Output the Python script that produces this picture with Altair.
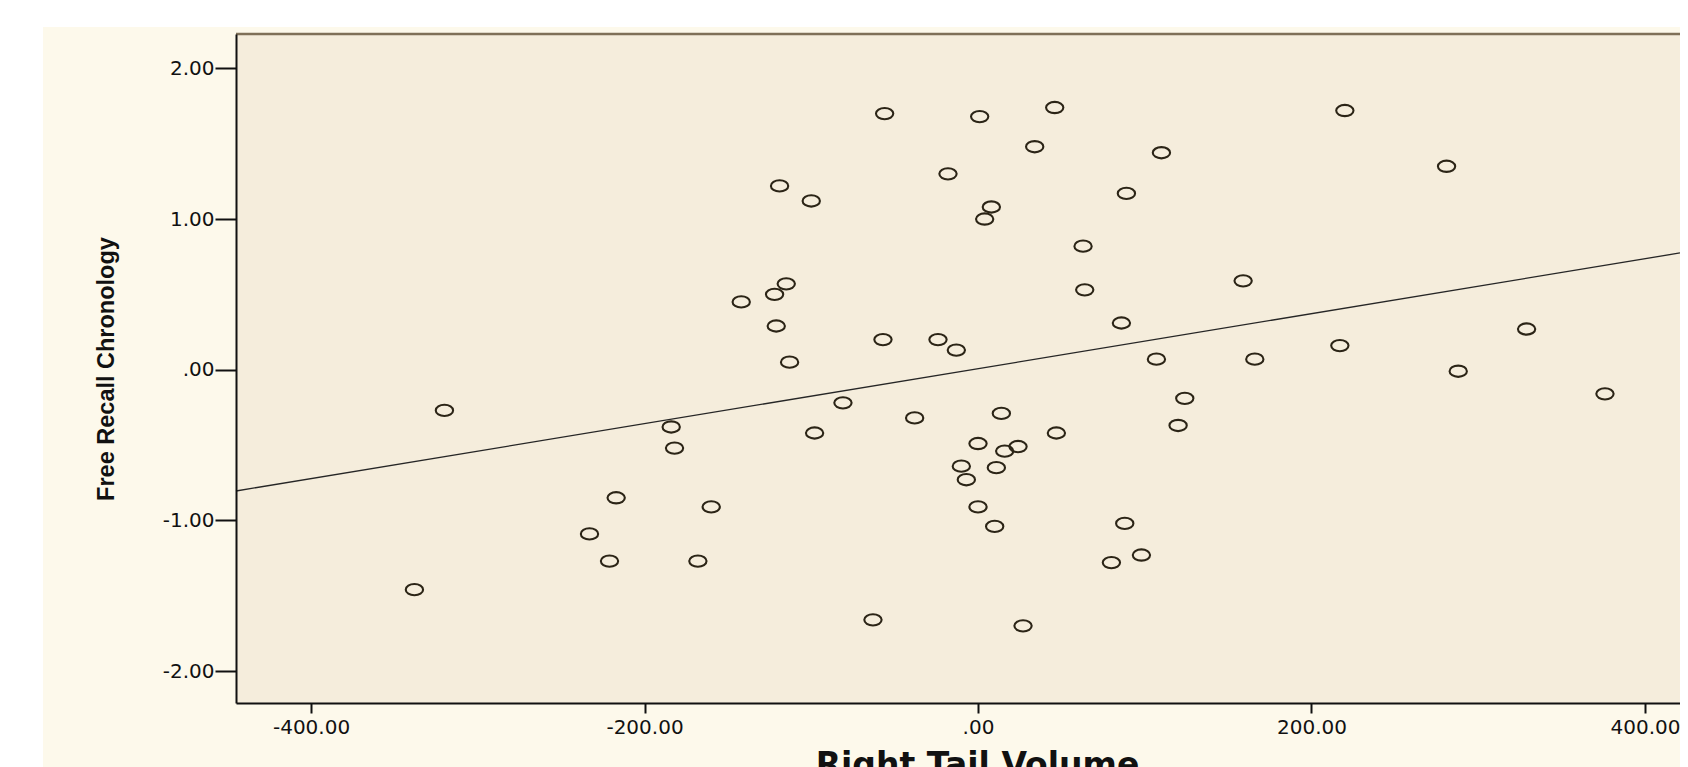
import altair as alt
import pandas as pd

# ---- data ----
x_vals = [-320, -338, -233, -221, -217, -184, -182, -168, -160, -142,
          -122, -121, -119, -115, -113, -100, -98, -81, -63, -57,
          -56, -38, -24, -18, -13, -10, -7, 0, 0, 1,
          4, 8, 10, 11, 14, 16, 24, 27, 34, 46,
          47, 63, 64, 80, 86, 88, 89, 98, 107, 110,
          120, 124, 159, 166, 217, 220, 281, 288, 329, 376]
y_vals = [-0.27, -1.46, -1.09, -1.27, -0.85, -0.38, -0.52, -1.27, -0.91, 0.45,
          0.50, 0.29, 1.22, 0.57, 0.05, 1.12, -0.42, -0.22, -1.66, 0.20,
          1.70, -0.32, 0.20, 1.30, 0.13, -0.64, -0.73, -0.49, -0.91, 1.68,
          1.00, 1.08, -1.04, -0.65, -0.29, -0.54, -0.51, -1.70, 1.48, 1.74,
          -0.42, 0.82, 0.53, -1.28, 0.31, -1.02, 1.17, -1.23, 0.07, 1.44,
          -0.37, -0.19, 0.59, 0.07, 0.16, 1.72, 1.35, -0.01, 0.27, -0.16]
fit_x = [-445, 421]
fit_y = [-0.805, 0.775]
x_ticks = [-400, -200, 0, 200, 400]
y_ticks = [-2, -1, 0, 1, 2]
x_domain = [-445, 421]
y_domain = [-2.212, 2.228]

PW, PH = 1444, 669

pts = pd.DataFrame({"x": x_vals, "y": y_vals})
fit = pd.DataFrame({"x": fit_x, "y": fit_y})
one = pd.DataFrame({"a": [0]})

label_expr = ("datum.value == 0 ? '.00' : (datum.value < 0 ? '-' : '') + "
              "format(abs(datum.value), '.2f')")

xscale = alt.Scale(domain=x_domain, nice=False, zero=False)
yscale = alt.Scale(domain=y_domain, nice=False, zero=False)

x_axis = alt.Axis(values=x_ticks, labelExpr=label_expr, grid=False,
                  tickSize=10, tickWidth=2, tickColor="#111111",
                  domainColor="#111111", domainWidth=2,
                  labelFont="DejaVu Sans", labelFontSize=20, labelColor="#111111",
                  labelPadding=4, labelFlush=False, labelOverlap=False,
                  title="Right Tail Volume", titleFont="DejaVu Sans",
                  titleFontWeight="bold", titleFontSize=33, titleColor="#111111",
                  titleX=741, titleY=72, titleAlign="center",
                  titleBaseline="alphabetic", zindex=2)
y_axis = alt.Axis(values=y_ticks, labelExpr=label_expr, grid=False,
                  tickSize=21, tickWidth=2, tickColor="#111111",
                  domainColor="#111111", domainWidth=2,
                  labelFont="DejaVu Sans", labelFontSize=20, labelColor="#111111",
                  labelPadding=1, labelFlush=False, labelOverlap=False,
                  title="Free Recall Chronology",
                  titleFont="Liberation Sans",
                  titleFontWeight="bold", titleFontSize=23.5, titleColor="#111111",
                  titleAngle=270, titleX=-130, titleY=334.5, titleAlign="center",
                  titleBaseline="middle", zindex=2)

bg_outer = alt.Chart(one).mark_rect(fill="#FDF9EB").encode(
    x=alt.value(-193), x2=alt.value(PW + 10), y=alt.value(-7), y2=alt.value(PH + 80))
bg_plot = alt.Chart(one).mark_rect(fill="#F5EDDC").encode(
    x=alt.value(0), x2=alt.value(PW), y=alt.value(0), y2=alt.value(PH))
top_rule = alt.Chart(one).mark_rule(color="#7f7058", strokeWidth=2.5).encode(
    x=alt.value(0), x2=alt.value(PW), y=alt.value(0))

ELLIPSE = ("M -1 0 C -1 -0.359 -0.5523 -0.65 0 -0.65 C 0.5523 -0.65 1 -0.359 1 0 "
           "C 1 0.359 0.5523 0.65 0 0.65 C -0.5523 0.65 -1 0.359 -1 0 Z")

points = alt.Chart(pts).mark_point(shape=ELLIPSE, size=300, filled=False,
                                   color="#2b2416", strokeWidth=2.1, opacity=1).encode(
    x=alt.X("x:Q", scale=xscale, axis=x_axis),
    y=alt.Y("y:Q", scale=yscale, axis=y_axis))

line = alt.Chart(fit).mark_line(color="#262626", strokeWidth=1.3).encode(
    x=alt.X("x:Q", scale=xscale),
    y=alt.Y("y:Q", scale=yscale))

chart = alt.layer(bg_outer, bg_plot, top_rule, line, points).properties(
    width=PW, height=PH,
    padding={"left": 228, "top": 26, "right": 0, "bottom": 64},
    autosize="none",
    background="white",
).configure_view(stroke=None)

chart.save("out.html", embed_options={"renderer": "svg", "actions": False})
